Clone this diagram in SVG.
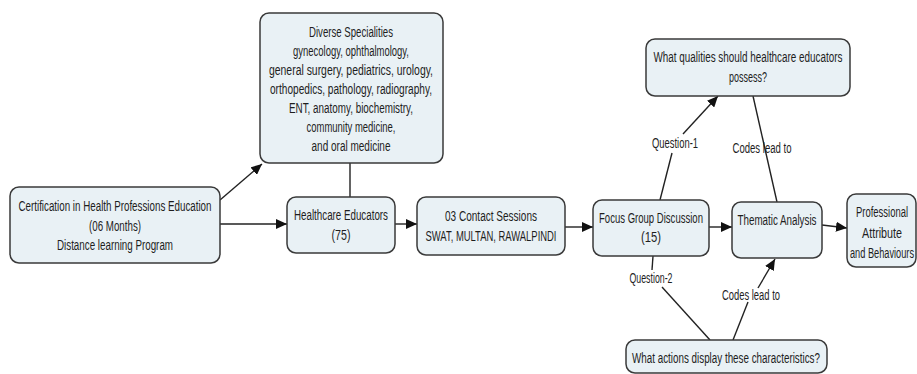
<svg xmlns="http://www.w3.org/2000/svg" width="917" height="374" viewBox="0 0 917 374">
<style>
.box{fill:#e9f1f5;stroke:#3a3a3a;stroke-width:1.5}
.t{font-family:"Liberation Sans",Arial,sans-serif;font-size:14px;fill:#1e1e1e;text-anchor:middle}
.c{stroke:#222;stroke-width:1.4;fill:none}
.a{marker-end:url(#arr)}
</style>
<defs>
<marker id="arr" markerUnits="userSpaceOnUse" markerWidth="12" markerHeight="10" refX="11" refY="5" orient="auto">
<path d="M0,0 L11,5 L0,10 z" fill="#111"/>
</marker>
</defs>
<rect width="917" height="374" fill="#fff"/>
<g id="connectors">
<line class="c a" x1="220" y1="200" x2="262" y2="164"/>
<line class="c a" x1="220" y1="224" x2="287" y2="224"/>
<line class="c" x1="350" y1="163" x2="350" y2="197"/>
<line class="c a" x1="395" y1="224" x2="417" y2="224"/>
<line class="c a" x1="565" y1="227" x2="593" y2="227"/>
<line class="c a" x1="709" y1="227" x2="732" y2="227"/>
<line class="c a" x1="822" y1="225" x2="847" y2="228"/>
<line class="c" x1="660" y1="200" x2="672" y2="153"/>
<line class="c a" x1="683" y1="134" x2="718" y2="96"/>
<line class="c" x1="753" y1="96" x2="777" y2="202"/>
<line class="c" x1="653" y1="256" x2="652" y2="270"/>
<line class="c" x1="662" y1="287" x2="710" y2="340"/>
<line class="c" x1="733" y1="340" x2="748" y2="302"/>
<line class="c a" x1="758" y1="288" x2="775" y2="259"/>
</g>
<g id="labels">
<text class="t" x="675" y="147.5" textLength="46" lengthAdjust="spacingAndGlyphs">Question-1</text>
<text class="t" x="762" y="152.5" textLength="59" lengthAdjust="spacingAndGlyphs">Codes lead to</text>
<text class="t" x="651" y="282.5" textLength="43" lengthAdjust="spacingAndGlyphs">Question-2</text>
<text class="t" x="751" y="299.5" textLength="58" lengthAdjust="spacingAndGlyphs">Codes lead to</text>
</g>
<g id="certification">
<rect class="box" x="10" y="187" width="210" height="76" rx="9"/>
<text class="t" x="115" y="210.5" textLength="193" lengthAdjust="spacingAndGlyphs">Certification in Health Professions Education</text>
<text class="t" x="115" y="230.5" textLength="52" lengthAdjust="spacingAndGlyphs">(06 Months)</text>
<text class="t" x="115" y="249.5" textLength="116" lengthAdjust="spacingAndGlyphs">Distance learning Program</text>
</g>
<g id="diverse">
<rect class="box" x="260" y="13" width="183" height="150" rx="9"/>
<text class="t" x="351" y="37" textLength="84" lengthAdjust="spacingAndGlyphs">Diverse Specialities</text>
<text class="t" x="351" y="56" textLength="116" lengthAdjust="spacingAndGlyphs">gynecology, ophthalmology,</text>
<text class="t" x="351" y="75" textLength="164" lengthAdjust="spacingAndGlyphs">general surgery, pediatrics, urology,</text>
<text class="t" x="351" y="94" textLength="162" lengthAdjust="spacingAndGlyphs">orthopedics, pathology, radiography,</text>
<text class="t" x="351" y="113" textLength="124" lengthAdjust="spacingAndGlyphs">ENT, anatomy, biochemistry,</text>
<text class="t" x="351" y="132" textLength="89" lengthAdjust="spacingAndGlyphs">community medicine,</text>
<text class="t" x="351" y="151" textLength="79" lengthAdjust="spacingAndGlyphs">and oral medicine</text>
</g>
<g id="healthcare">
<rect class="box" x="287" y="197" width="108" height="56" rx="9"/>
<text class="t" x="341" y="219.5" textLength="94" lengthAdjust="spacingAndGlyphs">Healthcare Educators</text>
<text class="t" x="341" y="239.5" textLength="19" lengthAdjust="spacingAndGlyphs">(75)</text>
</g>
<g id="contact">
<rect class="box" x="417" y="197" width="148" height="58" rx="9"/>
<text class="t" x="491" y="220.5" textLength="92" lengthAdjust="spacingAndGlyphs">03  Contact Sessions</text>
<text class="t" x="491" y="240.5" textLength="131" lengthAdjust="spacingAndGlyphs">SWAT, MULTAN, RAWALPINDI</text>
</g>
<g id="focus">
<rect class="box" x="593" y="200" width="116" height="56" rx="9"/>
<text class="t" x="651" y="222.5" textLength="104" lengthAdjust="spacingAndGlyphs">Focus Group Discussion</text>
<text class="t" x="651" y="241.5" textLength="20" lengthAdjust="spacingAndGlyphs">(15)</text>
</g>
<g id="thematic">
<rect class="box" x="732" y="202" width="90" height="56" rx="9"/>
<text class="t" x="777" y="224.5" textLength="79" lengthAdjust="spacingAndGlyphs">Thematic Analysis</text>
</g>
<g id="professional">
<rect class="box" x="847" y="194" width="69" height="73" rx="9"/>
<text class="t" x="882" y="216.5" textLength="52" lengthAdjust="spacingAndGlyphs">Professional</text>
<text class="t" x="882" y="237.5" textLength="40" lengthAdjust="spacingAndGlyphs">Attribute</text>
<text class="t" x="882" y="257.5" textLength="64" lengthAdjust="spacingAndGlyphs">and Behaviours</text>
</g>
<g id="question1">
<rect class="box" x="646" y="39" width="204" height="57" rx="9"/>
<text class="t" x="748" y="61.5" textLength="189" lengthAdjust="spacingAndGlyphs">What qualities should healthcare educators</text>
<text class="t" x="748" y="81.5" textLength="38" lengthAdjust="spacingAndGlyphs">possess?</text>
</g>
<g id="question2">
<rect class="box" x="626" y="340" width="201" height="33" rx="9"/>
<text class="t" x="726" y="362.5" textLength="188" lengthAdjust="spacingAndGlyphs">What actions display these characteristics?</text>
</g>
</svg>
